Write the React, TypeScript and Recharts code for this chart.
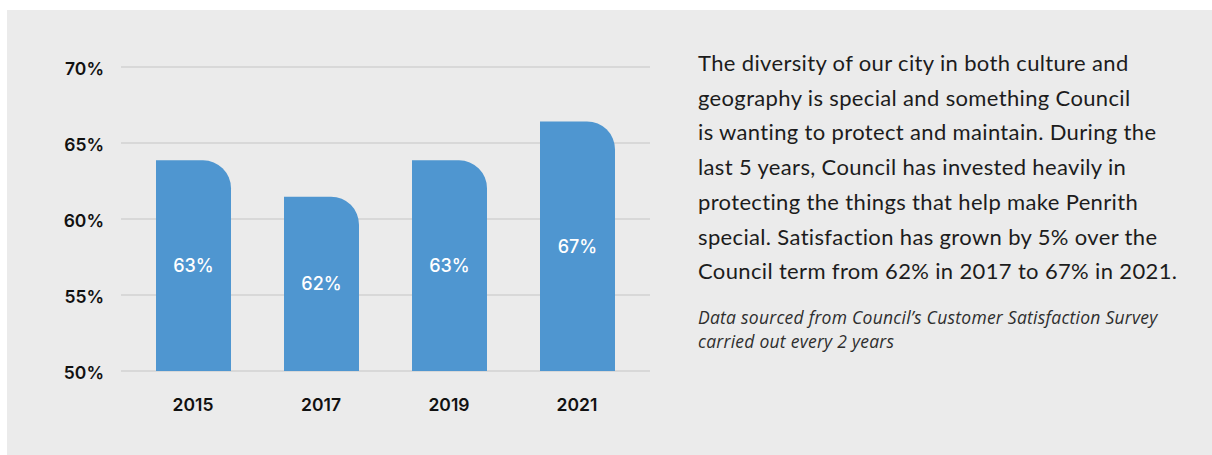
import { BarChart, Bar, XAxis, YAxis, CartesianGrid, LabelList } from 'recharts'

const years = ['2015', '2017', '2019', '2021']
const satisfaction = [63.86, 61.47, 63.86, 66.42]
const barLabels = ['63%', '62%', '63%', '67%']
const yTicks = [50, 55, 60, 65, 70]

const paragraphLines = [
  'The diversity of our city in both culture and',
  'geography is special and something Council',
  'is wanting to protect and maintain. During the',
  'last 5 years, Council has invested heavily in',
  'protecting the things that help make Penrith',
  'special. Satisfaction has grown by 5% over the',
  'Council term from 62% in 2017 to 67% in 2021.',
]
const sourceLines = [
  'Data sourced from Council\u2019s Customer Satisfaction Survey',
  'carried out every 2 years',
]

const chartData = years.map((year, i) => ({
  year,
  value: satisfaction[i],
  label: barLabels[i],
}))

const numberFont = 'Inter, "Noto Sans", sans-serif'

export default function App() {
  return (
    <div style={{ position: 'absolute', left: 0, top: 0, width: 1212, height: 455, background: '#fff' }}>
      <div
        style={{
          position: 'absolute',
          left: 7,
          top: 10,
          width: 1205,
          height: 445,
          background: '#ebebeb',
        }}
      />
      <div style={{ position: 'absolute', left: 0, top: 0 }}>
        <BarChart
          width={660}
          height={455}
          data={chartData}
          margin={{ top: 67, right: 10, left: 0, bottom: 34 }}
        >
          <CartesianGrid vertical={false} stroke="#c6c6c6" strokeWidth={1.2} />
          <XAxis
            dataKey="year"
            axisLine={false}
            tickLine={false}
            tickSize={0}
            tickMargin={28}
            height={50}
            padding={{ left: 8, right: 9 }}
            tick={{ fontSize: 17.5, fontWeight: 600, fill: '#111', fontFamily: numberFont }}
          />
          <YAxis
            width={121}
            domain={[50, 70]}
            ticks={yTicks}
            allowDataOverflow
            axisLine={false}
            tickLine={false}
            tickSize={0}
            tickMargin={17}
            tickFormatter={(v) => `${v}%`}
            tick={{ fontSize: 17.5, fontWeight: 600, fill: '#111', fontFamily: numberFont, dy: 2 }}
          />
          <Bar
            dataKey="value"
            fill="#4f96d0"
            barSize={75}
            radius={[0, 28, 0, 0]}
            isAnimationActive={false}
          >
            <LabelList
              dataKey="label"
              position="center"
              fill="#fff"
              style={{ fontSize: 18, fontWeight: 500, fontFamily: numberFont }}
            />
          </Bar>
        </BarChart>
      </div>
      <div
        style={{
          position: 'absolute',
          left: 698,
          top: 46,
          fontFamily: 'Lato, "Noto Sans", sans-serif',
          fontSize: 22,
          letterSpacing: 0.35,
          lineHeight: '34.7px',
          color: '#1c1c1c',
          whiteSpace: 'nowrap',
        }}
      >
        {paragraphLines.map((line) => (
          <div key={line}>{line}</div>
        ))}
      </div>
      <div
        style={{
          position: 'absolute',
          left: 698,
          top: 306,
          fontFamily: '"Open Sans", "Noto Sans", sans-serif',
          fontStyle: 'italic',
          fontSize: 17.5,
          letterSpacing: 0.25,
          lineHeight: '23.5px',
          color: '#2e2e2e',
          whiteSpace: 'nowrap',
        }}
      >
        {sourceLines.map((line) => (
          <div key={line}>{line}</div>
        ))}
      </div>
    </div>
  )
}
